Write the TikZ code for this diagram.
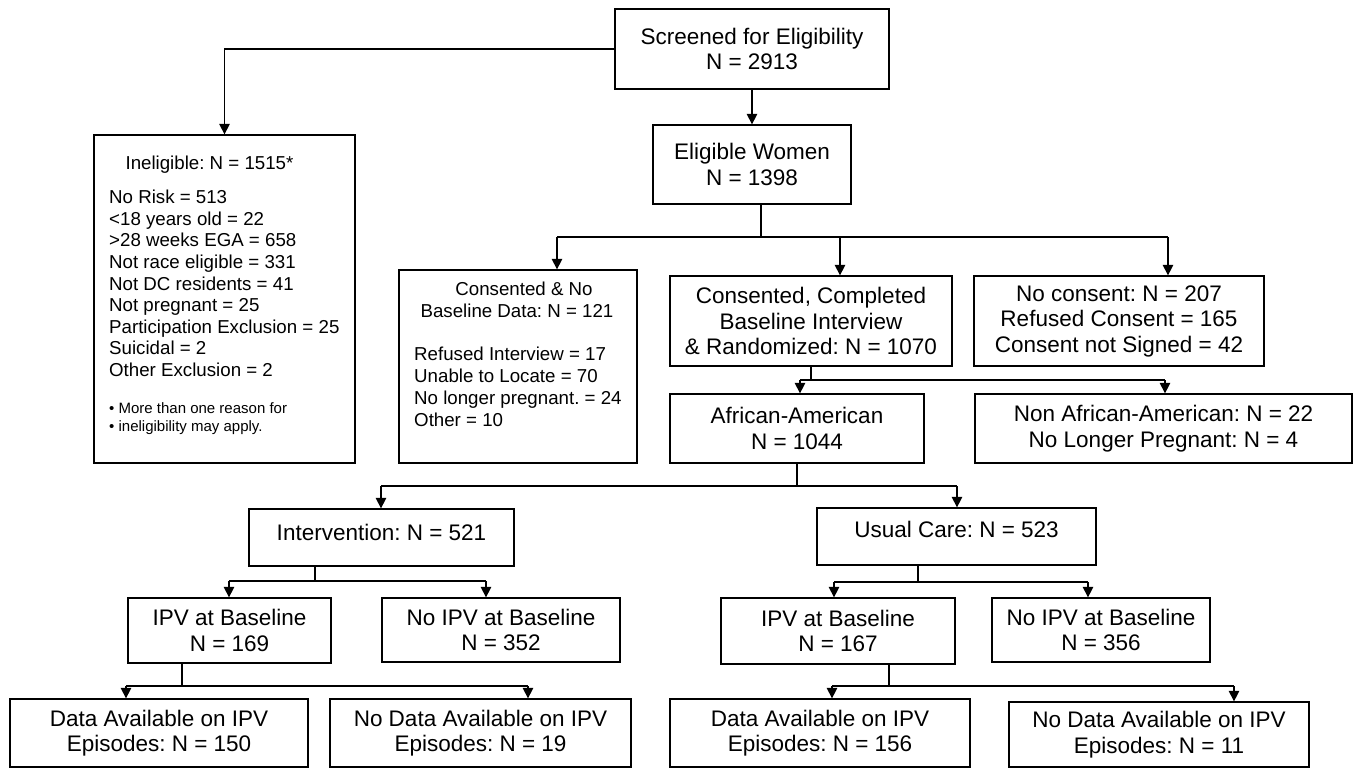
\documentclass[tikz,border=0pt]{standalone}
\usepackage{fontspec}
\setmainfont{Liberation Sans}
\usetikzlibrary{arrows.meta}
\frenchspacing
\newcommand\mainsz{\fontsize{22.5pt}{25.5pt}\selectfont}
\newcommand\smallsz{\fontsize{18.7pt}{21.6pt}\selectfont}
\newcommand\tinysz{\fontsize{15pt}{18pt}\selectfont}
\tikzset{
  ln/.style={line width=1.3pt},
  arr/.style={line width=1.3pt, -{Triangle[length=10.5pt,width=10.5pt]}},
  box/.style={draw, line width=1.3pt, inner sep=0pt, font=\mainsz},
  bx/.style 2 args={box, minimum width=#1pt, minimum height=#2pt},
  mbx/.style 2 args={box, align=center, minimum width=#1pt, minimum height=#2pt},
  lst/.style={inner sep=0pt, font=\smallsz, anchor=base west},
  ctr/.style={inner sep=0pt, font=\smallsz, anchor=base},
  note/.style={inner sep=0pt, font=\tinysz, anchor=base west}
}
\begin{document}
\begin{tikzpicture}[x=1pt,y=-1pt]
\useasboundingbox (0,0) rectangle (1356,768);

% boxes
\node[mbx={274}{80}] (scr) at (752,49) {Screened for Eligibility\\N = 2913};
\node[mbx={198}{79}] (elig) at (752,164.5) {Eligible Women\\N = 1398};
\node[bx={261}{328}] (inel) at (224.5,299) {};
\node[bx={238}{193}] (cnob) at (518,366.5) {};
\node[mbx={282}{90}] (ccbr) at (811,321) {Consented, Completed\\Baseline Interview\\\& Randomized: N = 1070};
\node[mbx={290}{90}] (nocon) at (1119,321) {No consent: N = 207\\Refused Consent = 165\\Consent not Signed = 42};
\node[mbx={254}{69}] (afam) at (797,428.5) {African-American\\N = 1044};
\node[mbx={377}{69}] (nonaa) at (1163.5,428.5) {Non African-American: N = 22\\No Longer Pregnant: N = 4};
\node[bx={265}{57}, text depth=11pt] (intv) at (381.5,537.5) {Intervention: N = 521};
\node[bx={279}{57}, text depth=15pt] (uc) at (956.5,536.5) {Usual Care: N = 523};
\node[mbx={203}{65}] (ipv1) at (229.5,630.5) {IPV at Baseline\\N = 169};
\node[mbx={238}{64}] (noipv1) at (501,630) {No IPV at Baseline\\N = 352};
\node[mbx={234}{66}] (ipv2) at (838,631) {IPV at Baseline\\N = 167};
\node[mbx={218}{64}] (noipv2) at (1101,630) {No IPV at Baseline\\N = 356};
\node[mbx={298}{68}] (data1) at (159,733) {Data Available on IPV\\Episodes: N = 150};
\node[mbx={301}{68}] (nodata1) at (480.5,733) {No Data Available on IPV\\Episodes: N = 19};
\node[mbx={300}{68}] (data2) at (820,733) {Data Available on IPV\\Episodes: N = 156};
\node[mbx={300}{65}] (nodata2) at (1159,734.5) {No Data Available on IPV\\Episodes: N = 11};

% ineligible box text
\node[ctr] (ineltitle) at (209.5,169.7) {Ineligible: N = 1515*};
\foreach \t [count=\i] in {No Risk = 513, <18 years old = 22, >28 weeks EGA = 658,
  Not race eligible = 331, Not DC residents = 41, Not pregnant = 25,
  Participation Exclusion = 25, Suicidal = 2, Other Exclusion = 2}
  \node[lst] (inl\i) at (109,{203.7+21.6*(\i-1)}) {\t};
\node[note] (inote1) at (109,413.4) {• More than one reason for};
\node[note] (inote2) at (109,431.4) {• ineligibility may apply.};

% consented & no baseline text
\node[ctr] (cnobt1) at (524,295.7) {Consented \& No};
\node[ctr] (cnobt2) at (517,317.7) {Baseline Data: N = 121};
\foreach \t [count=\i] in {Refused Interview = 17, Unable to Locate = 70,
  No longer pregnant. = 24, Other = 10}
  \node[lst] (cnl\i) at (414,{360.7+22*(\i-1)}) {\t};

% connectors
\draw[arr] (scr.west) -| (inel.north);
\draw[arr] (scr.south) -- (elig.north);

\coordinate (ej) at (761,237);
\coordinate (ea) at (557,237);
\coordinate (eb) at (840,237);
\coordinate (ec) at (1168,237);
\draw[ln] (elig.south -| ej) -- (ej);
\draw[ln] (ea) -- (ec);
\draw[arr] (ea) -- (ea |- cnob.north);
\draw[arr] (eb) -- (eb |- ccbr.north);
\draw[arr] (ec) -- (ec |- nocon.north);

\coordinate (cj) at (811,380);
\coordinate (ca) at (800,380);
\coordinate (cb) at (1165,380);
\draw[ln] (ccbr.south -| cj) -- (cj);
\draw[ln] (ca) -- (cb);
\draw[arr] (ca) -- (ca |- afam.north);
\draw[arr] (cb) -- (cb |- nonaa.north);

\coordinate (aj) at (797,486);
\coordinate (aa) at (381,486);
\coordinate (ab) at (957,486);
\draw[ln] (afam.south -| aj) -- (aj);
\draw[ln] (aa) -- (ab);
\draw[arr] (aa) -- (aa |- intv.north);
\draw[arr] (ab) -- (ab |- uc.north);

\coordinate (ij) at (315,581);
\coordinate (ia) at (229,581);
\coordinate (ib) at (486,581);
\draw[ln] (intv.south -| ij) -- (ij);
\draw[ln] (ia) -- (ib);
\draw[arr] (ia) -- (ia |- ipv1.north);
\draw[arr] (ib) -- (ib |- noipv1.north);

\coordinate (uj) at (918,582);
\coordinate (ua) at (834,582);
\coordinate (ub) at (1088,582);
\draw[ln] (uc.south -| uj) -- (uj);
\draw[ln] (ua) -- (ub);
\draw[arr] (ua) -- (ua |- ipv2.north);
\draw[arr] (ub) -- (ub |- noipv2.north);

\coordinate (pj) at (182,686);
\coordinate (pa) at (126,686);
\coordinate (pb) at (528,686);
\draw[ln] (ipv1.south -| pj) -- (pj);
\draw[ln] (pa) -- (pb);
\draw[arr] (pa) -- (pa |- data1.north);
\draw[arr] (pb) -- (pb |- nodata1.north);

\coordinate (qj) at (889,686);
\coordinate (qa) at (832,686);
\coordinate (qb) at (1234,686);
\draw[ln] (ipv2.south -| qj) -- (qj);
\draw[ln] (qa) -- (qb);
\draw[arr] (qa) -- (qa |- data2.north);
\draw[arr] (qb) -- (qb |- nodata2.north);
\end{tikzpicture}
\end{document}
